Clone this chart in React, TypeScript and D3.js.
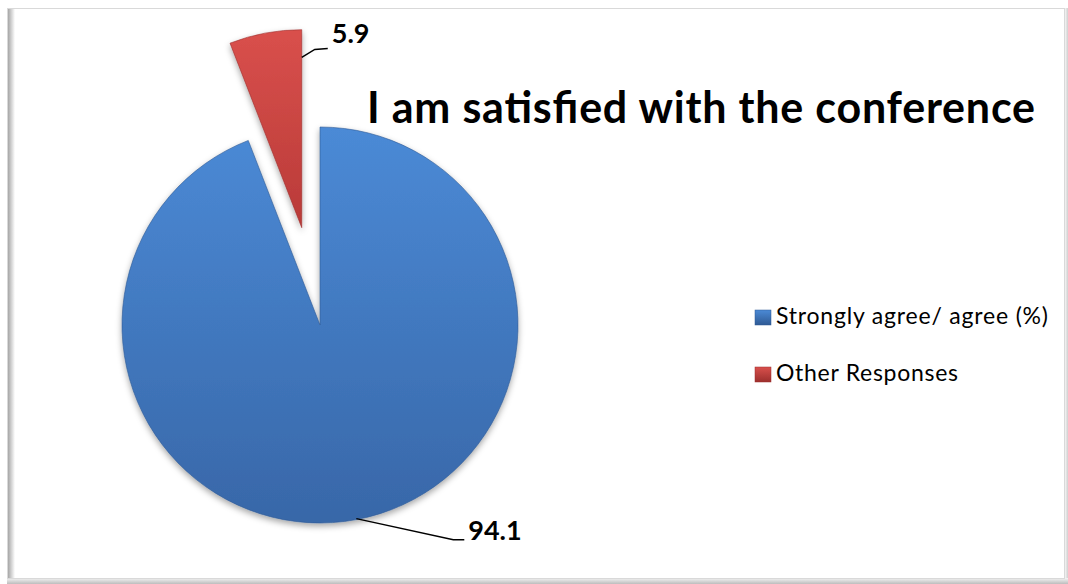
import React, { useEffect, useRef } from "react";
import * as d3 from "d3";

// chart data
const categories = ["Strongly agree/ agree (%)", "Other Responses"];
const values = [94.1, 5.9];
const labels = ["94.1", "5.9"];
const title = "I am satisfied with the conference";

const colors = [
  { top: "#4b8ad6", bottom: "#3867a8", edge: "#2f5a94" },
  { top: "#d9504c", bottom: "#b93a38", edge: "#9c2f2d" },
];

const App = () => {
  const svgRef = useRef<SVGSVGElement>(null);

  useEffect(() => {
    const width = 1068;
    const height = 584;
    const cx = 320;
    const cy = 325;
    const radius = 198;
    const explode = 99; // 第二块扇形向外拉出
    const font = "Lato, 'Open Sans', sans-serif";

    const svg = d3.select(svgRef.current);
    svg.selectAll("*").remove();
    svg.attr("width", width).attr("height", height);

    const defs = svg.append("defs");

    // 渐变色
    colors.forEach((c, i) => {
      const g = defs
        .append("linearGradient")
        .attr("id", `grad${i}`)
        .attr("x1", 0)
        .attr("y1", 0)
        .attr("x2", 0)
        .attr("y2", 1);
      g.append("stop").attr("offset", "0%").attr("stop-color", c.top);
      g.append("stop").attr("offset", "100%").attr("stop-color", c.bottom);

      const lg = defs
        .append("linearGradient")
        .attr("id", `legend${i}`)
        .attr("x1", 0)
        .attr("y1", 0)
        .attr("x2", 0)
        .attr("y2", 1);
      lg.append("stop").attr("offset", "0%").attr("stop-color", c.top);
      lg.append("stop").attr("offset", "100%").attr("stop-color", c.edge);
    });

    const shadow = defs
      .append("filter")
      .attr("id", "shadow")
      .attr("x", "-20%")
      .attr("y", "-20%")
      .attr("width", "140%")
      .attr("height", "140%");
    shadow
      .append("feDropShadow")
      .attr("dx", 0)
      .attr("dy", 3)
      .attr("stdDeviation", 3)
      .attr("flood-color", "#000")
      .attr("flood-opacity", 0.35);

    const leftShade = defs
      .append("linearGradient")
      .attr("id", "leftShade")
      .attr("x1", 0)
      .attr("x2", 1)
      .attr("y1", 0)
      .attr("y2", 0);
    leftShade.append("stop").attr("offset", "0%").attr("stop-color", "#9a9a9a");
    leftShade.append("stop").attr("offset", "100%").attr("stop-color", "#ffffff");

    const bottomShade = defs
      .append("linearGradient")
      .attr("id", "bottomShade")
      .attr("x1", 0)
      .attr("x2", 0)
      .attr("y1", 0)
      .attr("y2", 1);
    bottomShade.append("stop").attr("offset", "0%").attr("stop-color", "#f4f4f4");
    bottomShade.append("stop").attr("offset", "100%").attr("stop-color", "#bdbdbd");

    const rightShade = defs
      .append("linearGradient")
      .attr("id", "rightShade")
      .attr("x1", 0)
      .attr("x2", 1)
      .attr("y1", 0)
      .attr("y2", 0);
    rightShade.append("stop").attr("offset", "0%").attr("stop-color", "#f4f4f4");
    rightShade.append("stop").attr("offset", "100%").attr("stop-color", "#cfcfcf");

    // 背景和边框
    svg.append("rect").attr("width", width).attr("height", height).attr("fill", "#fff");
    svg
      .append("rect")
      .attr("x", 1065)
      .attr("y", 8)
      .attr("width", 3)
      .attr("height", 576)
      .attr("fill", "url(#rightShade)");
    svg
      .append("rect")
      .attr("x", 7)
      .attr("y", 578)
      .attr("width", 1061)
      .attr("height", 6)
      .attr("fill", "url(#bottomShade)");
    svg
      .append("rect")
      .attr("x", 7)
      .attr("y", 8)
      .attr("width", 8)
      .attr("height", 570)
      .attr("fill", "url(#leftShade)");
    svg
      .append("rect")
      .attr("x", 7.5)
      .attr("y", 8.5)
      .attr("width", 1057)
      .attr("height", 570)
      .attr("fill", "none")
      .attr("stroke", "#d9d9d9");

    // 饼图
    const pie = d3
      .pie<number>()
      .sort(null)
      .value((d) => d);
    const arcs = pie(values);

    const arc = d3
      .arc<d3.PieArcDatum<number>>()
      .innerRadius(0)
      .outerRadius(radius);

    const offsetOf = (d: d3.PieArcDatum<number>, i: number) => {
      if (i !== 1) return [0, 0];
      const mid = (d.startAngle + d.endAngle) / 2;
      return [Math.sin(mid) * explode, -Math.cos(mid) * explode];
    };

    const pieG = svg.append("g").attr("transform", `translate(${cx},${cy})`);

    pieG
      .selectAll("path.slice")
      .data(arcs)
      .enter()
      .append("path")
      .attr("class", "slice")
      .attr("transform", (d, i) => {
        const [dx, dy] = offsetOf(d, i);
        return `translate(${dx},${dy})`;
      })
      .attr("d", arc)
      .attr("fill", (d, i) => `url(#grad${i})`)
      .attr("stroke", (d, i) => colors[i].edge)
      .attr("stroke-width", 1)
      .attr("stroke-opacity", 0.6)
      .attr("filter", "url(#shadow)");

    // 数据标签和引导线
    const labelPos = arcs.map((d, i) => {
      const [dx, dy] = offsetOf(d, i);
      if (i === 1) {
        const a = d.endAngle;
        const r = radius * 0.86;
        const x0 = dx + Math.sin(a) * r;
        const y0 = dy - Math.cos(a) * r;
        return {
          points: [
            [x0, y0],
            [x0 + 13, y0 - 8],
            [x0 + 26, y0 - 9],
          ],
          tx: x0 + 30,
          ty: y0 - 14,
        };
      }
      const mid = (d.startAngle + d.endAngle) / 2;
      const x0 = Math.sin(mid) * (radius - 1);
      const y0 = -Math.cos(mid) * (radius - 1);
      return {
        points: [
          [x0, y0],
          [x0 + 97, y0 + 21],
          [x0 + 108, y0 + 21],
        ],
        tx: x0 + 112,
        ty: y0 + 21,
      };
    });

    const line = d3.line();
    labelPos.forEach((p, i) => {
      pieG
        .append("path")
        .attr("d", line(p.points as [number, number][]))
        .attr("fill", "none")
        .attr("stroke", "#000")
        .attr("stroke-width", 1.5);
      pieG
        .append("text")
        .attr("x", p.tx)
        .attr("y", p.ty)
        .attr("font-family", font)
        .attr("font-weight", "bold")
        .attr("font-size", 27)
        .attr("fill", "#000")
        .text(labels[i]);
    });

    // 标题
    svg
      .append("text")
      .attr("x", 367)
      .attr("y", 123)
      .attr("font-family", font)
      .attr("font-weight", "bold")
      .attr("font-size", 43)
      .attr("textLength", 668)
      .attr("lengthAdjust", "spacing")
      .attr("fill", "#000")
      .text(title);

    // 图例
    const legendWidths = [272, 182];
    const legend = svg.append("g").attr("transform", "translate(755,310)");
    const items = legend
      .selectAll("g.item")
      .data(categories)
      .enter()
      .append("g")
      .attr("class", "item")
      .attr("transform", (d, i) => `translate(0,${i * 57})`);
    items
      .append("rect")
      .attr("width", 16)
      .attr("height", 15)
      .attr("fill", (d, i) => `url(#legend${i})`)
      .attr("stroke", (d, i) => colors[i].edge)
      .attr("stroke-width", 0.5);
    items
      .append("text")
      .attr("x", 21)
      .attr("y", 14)
      .attr("font-family", font)
      .attr("font-size", 23)
      .attr("textLength", (d, i) => legendWidths[i])
      .attr("lengthAdjust", "spacing")
      .attr("fill", "#000")
      .text((d) => d);
  }, []);

  return <svg ref={svgRef} style={{ position: "absolute", left: 0, top: 0 }} />;
};

export default App;
